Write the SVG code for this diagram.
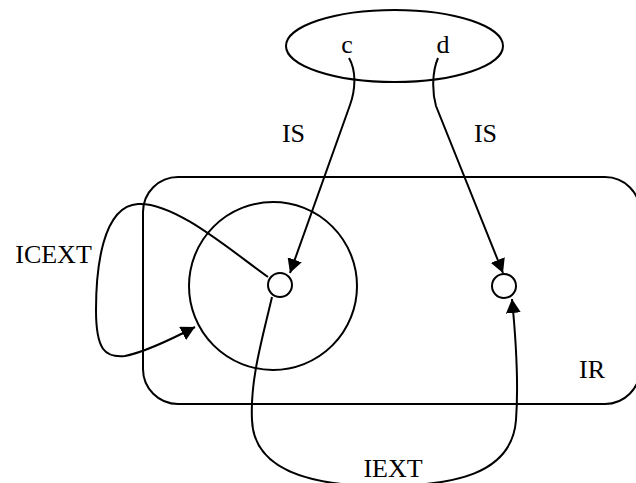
<svg xmlns="http://www.w3.org/2000/svg" width="636" height="483" viewBox="0 0 636 483">
<style>
.s{fill:none;stroke:#000;stroke-width:2}
.w{fill:#fff;stroke:#000;stroke-width:2}
.c{fill:none;stroke:#000;stroke-width:2;marker-end:url(#ah)}
text{font-family:"Liberation Serif","Times New Roman",serif;font-size:26px;fill:#000;text-anchor:middle}
</style>
<defs>
<marker id="ah" markerUnits="userSpaceOnUse" markerWidth="15" markerHeight="15" refX="14" refY="7.5" orient="auto">
<path d="M0,0 L14,7.5 L0,15 z" fill="#000"/>
</marker>
</defs>
<rect fill="#fff" width="636" height="483"/>
<g id="IR">
<rect class="s" x="143" y="177" width="497" height="227" rx="35" ry="35"/>
<text x="592" y="378">IR</text>
</g>
<g id="bigcircle">
<circle class="s" cx="273" cy="286" r="84"/>
</g>
<g id="source">
<ellipse class="s" cx="394.5" cy="46" rx="108.5" ry="36"/>
<text x="347" y="53">c</text>
<text x="443" y="53">d</text>
</g>
<g id="connectors">
<path class="c" d="M349,58 C356,70 356,88 350,105 L290,273"/>
<path class="c" d="M438,58 C432,72 432,92 436,106 L503,273"/>
<path class="c" d="M268,277 C230,250 175,202 138,204 C102,206 96,270 96,310 C96,350 105,358 125,356 C145,352 170,340 195,327"/>
<path class="c" d="M272,297 C262,340 250,380 252,420 C254,475 320,486 382,486 C452,486 512,475 516,420 C519,380 516,340 512,299"/>
<text x="293.5" y="142">IS</text>
<text x="485.5" y="142">IS</text>
<text x="53.5" y="263">ICEXT</text>
<text x="393" y="477">IEXT</text>
</g>
<g id="n1">
<circle class="w" cx="280" cy="285" r="12"/>
</g>
<g id="n2">
<circle class="w" cx="504" cy="286" r="12"/>
</g>
</svg>
